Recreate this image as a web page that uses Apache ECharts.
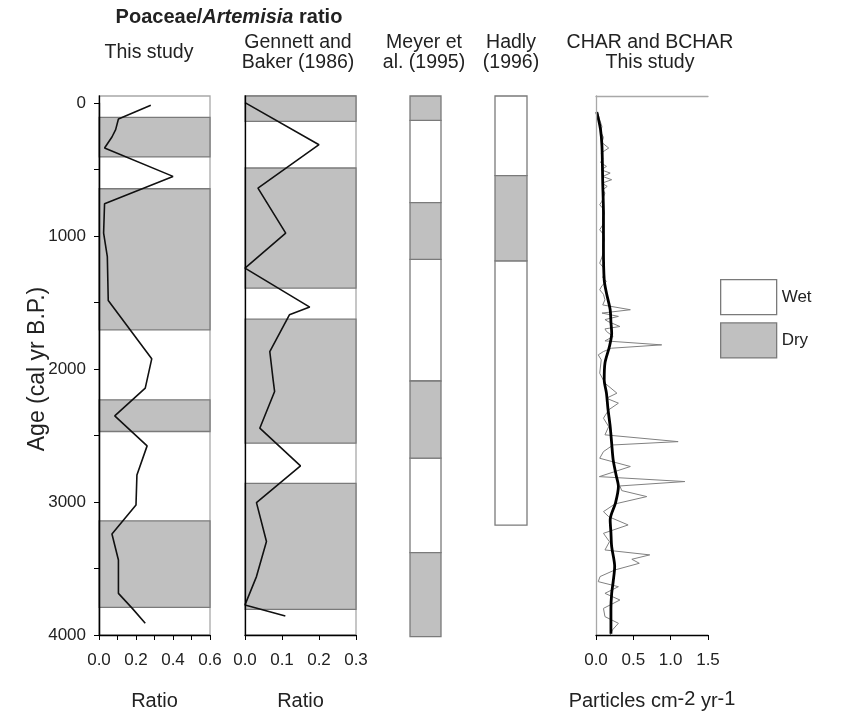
<!DOCTYPE html>
<html>
<head>
<meta charset="utf-8">
<title>Poaceae/Artemisia ratio</title>
<script src="https://cdn.jsdelivr.net/npm/echarts@6/dist/echarts.min.js"></script>
<style>
  html, body { margin: 0; padding: 0; background: #fff; }
  #chart { width: 864px; height: 714px; }
</style>
</head>
<body>
<div id="chart"></div>
<script>
// Poaceae/Artemisia ratio, this study
var studyAge   = [20, 123, 203, 258, 341, 554, 759, 980, 1156, 1486, 1925, 2145, 2353, 2579, 2797, 3023, 3241, 3436, 3687, 3800, 3912];
var studyRatio = [0.28, 0.105, 0.09, 0.07, 0.03, 0.40, 0.03, 0.025, 0.045, 0.05, 0.285, 0.25, 0.085, 0.26, 0.205, 0.20, 0.07, 0.105, 0.105, 0.18, 0.25];
var studyDry   = [[110, 408], [647, 1707], [2233, 2471], [3143, 3792]];

// Gennett and Baker (1986)
var gennettAge   = [0, 316, 642, 980, 1243, 1536, 1594, 1870, 2083, 2170, 2446, 2729, 3005, 3298, 3561, 3774, 3857];
var gennettRatio = [0, 0.2, 0.035, 0.11, 0, 0.175, 0.12, 0.067, 0.076, 0.08, 0.04, 0.15, 0.031, 0.058, 0.031, 0, 0.109];
var gennettDry   = [[-50, 140], [491, 1393], [1627, 2559], [2860, 3807]];

// Meyer et al. (1995) and Hadly (1996)
var meyerDry = [[-50, 134], [751, 1179], [2093, 2673], [3384, 4015]];
var meyerWet = [[134, 751], [1179, 2093], [2673, 3384]];
var hadlyDry = [[548, 1189]];
var hadlyWet = [[-50, 548], [1189, 3176]];

// CHAR (thin) and BCHAR (thick)
var charAge = [70, 130, 180, 220, 260, 300, 341, 378, 420, 450, 479, 505, 529, 555, 579, 605, 629, 655, 679, 710,
  740, 767, 800, 830, 870, 910, 955, 990, 1030, 1080, 1120, 1160, 1206, 1240, 1280, 1315, 1343, 1375, 1406, 1440,
  1481, 1520, 1556, 1581, 1606, 1630, 1644, 1682, 1700, 1719, 1757, 1790, 1820, 1845, 1870, 1895, 1932, 2033, 2108, 2183,
  2221, 2258, 2308, 2371, 2434, 2496, 2547, 2572, 2622, 2672, 2734, 2810, 2847, 2880, 2915, 2960, 3015, 3073, 3111, 3173,
  3236, 3299, 3361, 3398, 3431, 3461, 3511, 3561, 3599, 3637, 3687, 3737, 3800, 3862, 3912, 3962, 4000];
var charVal = [0.02, 0.05, 0.08, 0.06, 0.1, 0.08, 0.17, 0.07, 0.09, 0.06, 0.14, 0.07, 0.19, 0.09, 0.21, 0.08, 0.15, 0.09, 0.12, 0.1,
  0.08, 0.05, 0.1, 0.11, 0.09, 0.1, 0.05, 0.1, 0.11, 0.09, 0.1, 0.08, 0.05, 0.1, 0.11, 0.09, 0.14, 0.08, 0.05, 0.1,
  0.12, 0.09, 0.46, 0.08, 0.3, 0.12, 0.16, 0.32, 0.12, 0.14, 0.23, 0.12, 0.88, 0.21, 0.1, 0.03, 0.07, 0.05, 0.12, 0.28,
  0.14, 0.3, 0.17, 0.1, 0.17, 0.12, 1.1, 0.23, 0.1, 0.05, 0.46, 0.045, 1.19, 0.32, 0.345, 0.68, 0.255, 0.1, 0.17, 0.43,
  0.1, 0.18, 0.12, 0.72, 0.48, 0.58, 0.255, 0.054, 0.03, 0.3, 0.12, 0.32, 0.1, 0.12, 0.3, 0.22, 0.19];
var bcharAge = [70, 200, 328, 600, 829, 1100, 1331, 1431, 1556, 1650, 1732, 1832, 1957, 2083, 2183, 2300, 2434, 2560, 2684, 2800, 2885, 3010, 3135, 3230, 3336, 3486, 3600, 3687, 3800, 3937, 3990];
var bcharVal = [0.01, 0.06, 0.08, 0.09, 0.1, 0.1, 0.11, 0.14, 0.19, 0.2, 0.21, 0.18, 0.12, 0.11, 0.14, 0.16, 0.19, 0.21, 0.23, 0.27, 0.3, 0.26, 0.19, 0.2, 0.21, 0.25, 0.23, 0.21, 0.2, 0.2, 0.2];

var ageTicks = 500;
var legendNames = ['Wet', 'Dry'];

function pairs(xs, ys) {
  return ys.map(function (y, i) { return [xs[i], y]; });
}

var TXT = '#222';
var DRY = '#c0c0c0';
var EDGE = '#7a7a7a';
var FONT = 'Liberation Sans, Arial, sans-serif';

function band(fill, stroke) {
  return function (params, api) {
    var cs = params.coordSys;
    var y0 = api.coord([0, api.value(0)])[1];
    var y1 = api.coord([0, api.value(1)])[1];
    return {
      type: 'rect',
      shape: { x: cs.x, y: y0, width: cs.width, height: y1 - y0 },
      style: { fill: fill, stroke: stroke, lineWidth: 1.3 }
    };
  };
}

function bandSeries(name, data, idx, fill) {
  return {
    name: name, type: 'custom', xAxisIndex: idx, yAxisIndex: idx, z: 1,
    itemStyle: { color: fill, borderColor: EDGE },
    renderItem: band(fill, EDGE), data: data
  };
}

function hiddenX(grid) {
  return { gridIndex: grid, type: 'value', min: 0, max: 1, show: false };
}

function panelY(grid, max, line) {
  return {
    gridIndex: grid, type: 'value', min: -50, max: max, inverse: true, z: 5,
    axisLine: { show: line != null, onZero: false, lineStyle: { color: line || '#000', width: 1.3 } },
    axisTick: { show: false }, axisLabel: { show: false }, splitLine: { show: false }
  };
}

function ratioX(grid, max, everyOther) {
  return {
    gridIndex: grid, type: 'value', position: 'bottom', min: 0, max: max, interval: 0.1, z: 5,
    name: 'Ratio', nameLocation: 'middle', nameGap: 56, nameMoveOverlap: false,
    nameTextStyle: { fontSize: 20, color: TXT },
    axisLine: { onZero: false, lineStyle: { color: '#000', width: 1.3 } },
    axisTick: { length: 5, lineStyle: { color: '#000' } },
    axisLabel: {
      fontSize: 17, color: TXT, margin: 17,
      formatter: function (v) {
        if (everyOther && Math.round(v * 10) % 2 !== 0) return '';
        return v.toFixed(1);
      }
    },
    splitLine: { show: false }
  };
}

function title(x, y, text) {
  return { type: 'text', x: x, y: y, style: { text: text, align: 'center', verticalAlign: 'middle',
    lineHeight: 20, fontSize: 19.5, fill: TXT, fontFamily: FONT } };
}

function grid(left, width, top, height, border) {
  var g = { left: left, width: width, top: top, height: height, containLabel: false, outerBoundsMode: 'none' };
  if (border) {
    g.show = true;
    g.borderColor = '#a8a8a8';
    g.borderWidth = 1.3;
  }
  return g;
}

var chart = echarts.init(document.getElementById('chart'));
chart.setOption({
  animation: false,
  textStyle: { fontFamily: FONT },
  graphic: [
    { type: 'text', x: 229, y: 17, style: { text: 'Poaceae/{i|Artemisia} ratio', align: 'center', verticalAlign: 'middle',
      fontSize: 20, fontWeight: 'bold', fill: TXT, fontFamily: FONT,
      rich: { i: { fontSize: 20, fontWeight: 'bold', fontStyle: 'italic', fill: TXT, fontFamily: FONT } } } },
    title(149, 53, 'This study'),
    title(298, 53, 'Gennett and\nBaker (1986)'),
    title(424, 53, 'Meyer et\nal. (1995)'),
    title(511, 53, 'Hadly\n(1996)'),
    title(650, 53, 'CHAR and BCHAR\nThis study')
  ],
  legend: {
    orient: 'vertical', left: 720, top: 279, padding: 0, itemGap: 7,
    itemWidth: 56, itemHeight: 35, icon: 'rect', selectedMode: false,
    textStyle: { fontSize: 17, color: TXT },
    data: [
      { name: legendNames[0], itemStyle: { color: '#fff', borderColor: EDGE, borderWidth: 1.3 } },
      { name: legendNames[1], itemStyle: { color: DRY, borderColor: EDGE, borderWidth: 1.3 } }
    ]
  },
  grid: [
    grid(99, 111, 96, 539, true),
    grid(245, 111, 96, 539, true),
    grid(410, 31, 96, 541.3, false),
    grid(495, 32, 96, 541.3, false),
    grid(596, 112, 96, 539, false),
    grid(99, 111, 103, 532, false)
  ],
  xAxis: [
    ratioX(0, 0.6, true),
    ratioX(1, 0.3, false),
    hiddenX(2),
    hiddenX(3),
    {
      gridIndex: 4, type: 'value', position: 'bottom', min: 0, max: 1.5, interval: 0.5, z: 5,
      name: 'Particles cm{s|-2} yr{s|-1}', nameLocation: 'middle', nameGap: 54, nameMoveOverlap: false,
      nameTextStyle: { fontSize: 20, color: TXT, lineHeight: 24,
        rich: { s: { fontSize: 20, lineHeight: 18, verticalAlign: 'top', color: TXT } } },
      axisLine: { onZero: false, lineStyle: { color: '#000', width: 1.3 } },
      axisTick: { length: 5, lineStyle: { color: '#000' } },
      axisLabel: { fontSize: 17, color: TXT, margin: 17, formatter: function (v) { return v.toFixed(1); } },
      splitLine: { show: false }
    },
    {
      gridIndex: 4, type: 'value', position: 'top', min: 0, max: 1.5,
      axisLine: { onZero: false, lineStyle: { color: '#a8a8a8', width: 1.3 } },
      axisTick: { show: false }, axisLabel: { show: false }, splitLine: { show: false }
    },
    hiddenX(5)
  ],
  yAxis: [
    panelY(0, 4000, '#000'),
    panelY(1, 4000, '#000'),
    panelY(2, 4020, null),
    panelY(3, 4020, null),
    panelY(4, 4000, '#a8a8a8'),
    {
      gridIndex: 5, type: 'value', min: 0, max: 4000, interval: ageTicks, inverse: true, z: 6,
      name: 'Age (cal yr B.P.)', nameLocation: 'middle', nameGap: 50, nameMoveOverlap: false,
      nameTextStyle: { fontSize: 23, color: TXT },
      axisLine: { onZero: false, lineStyle: { color: '#000', width: 1.3 } },
      axisTick: { length: 5, lineStyle: { color: '#000' } },
      axisLabel: { fontSize: 17, color: TXT, margin: 13,
        formatter: function (v) { return v % 1000 === 0 ? String(v) : ''; } },
      splitLine: { show: false }
    }
  ],
  series: [
    bandSeries('Dry', studyDry, 0, DRY),
    { name: 'study', type: 'line', xAxisIndex: 0, yAxisIndex: 0, z: 3, showSymbol: false,
      lineStyle: { color: '#111', width: 1.6 }, data: pairs(studyRatio, studyAge) },
    bandSeries('Dry', gennettDry, 1, DRY),
    { name: 'gennett', type: 'line', xAxisIndex: 1, yAxisIndex: 1, z: 3, showSymbol: false,
      lineStyle: { color: '#111', width: 1.6 }, data: pairs(gennettRatio, gennettAge) },
    bandSeries('Wet', meyerWet, 2, '#fff'),
    bandSeries('Dry', meyerDry, 2, DRY),
    bandSeries('Wet', hadlyWet, 3, '#fff'),
    bandSeries('Dry', hadlyDry, 3, DRY),
    { name: 'CHAR', type: 'line', xAxisIndex: 4, yAxisIndex: 4, z: 3, showSymbol: false,
      lineStyle: { color: '#808080', width: 1 }, data: pairs(charVal, charAge) },
    { name: 'BCHAR', type: 'line', xAxisIndex: 4, yAxisIndex: 4, z: 4, showSymbol: false, smooth: 0.3,
      lineStyle: { color: '#000', width: 2.8 }, data: pairs(bcharVal, bcharAge) }
  ]
});
</script>
</body>
</html>
